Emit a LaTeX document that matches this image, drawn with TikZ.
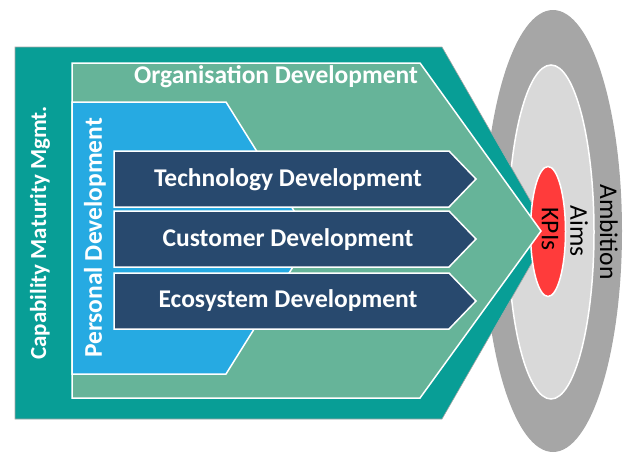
\documentclass[tikz,border=0pt]{standalone}
\usepackage{fontspec}
\setmainfont{Carlito}
\usepackage{tikz}
\usetikzlibrary{positioning}
\definecolor{tealbg}{RGB}{8,158,150}
\definecolor{orggreen}{RGB}{102,180,153}
\definecolor{persblue}{RGB}{38,170,226}
\definecolor{devdark}{RGB}{40,73,110}
\definecolor{kpired}{RGB}{255,59,59}
\definecolor{ambgray}{RGB}{166,166,166}
\definecolor{aimgray}{RGB}{217,217,217}
\tikzset{lbl/.style = {text = white, font = \bfseries\fontsize{25.5}{28}\selectfont, inner sep = 0},
  circlbl/.style = {text = black, font = \fontsize{25.5}{28}\selectfont, inner sep = 0, rotate = -90},
  panel/.style = {draw = white, line width = 1.5pt},
  devarrow/.style = {panel, fill = devdark}}

\begin{document}
\begin{tikzpicture}[x=1pt, y=-1pt]
      \useasboundingbox (0, 0) rectangle (627, 467);
      % target
      \fill [ambgray] (553, 231) ellipse [x radius=69, y radius=221];
      \draw [panel, fill=aimgray] (551, 232) ellipse [x radius=43, y radius=167];
      % outer frame
      \draw [fill=tealbg, draw=gray!70, line width=0.6pt] (15, 47) -- (442, 47) -- (549, 233) -- (442, 419) -- (15, 419) -- cycle;
      \draw [panel, fill=kpired] (548, 231.5) ellipse [x radius=17.5, y radius=65];
      \draw [panel, fill=orggreen] (72, 63) -- (420, 63) -- (541, 231) -- (420, 398) -- (72, 398) -- cycle;
      \draw [panel, fill=persblue] (72, 102) -- (226, 102) -- (311, 238) -- (226, 374) -- (72, 374) -- cycle;
      \foreach \top/\bot in {151/207, 211/267, 273/329}
        \draw [devarrow] (114, \top) -- (449, \top) -- (476, {(\top+\bot)/2}) -- (449, \bot) -- (114, \bot) -- cycle;
      % labels
      \node [lbl] (org) at (276, 77) {Organisation Development};
      \node [lbl] (tech) at (288, 180) {Technology Development};
      \node [lbl] (cust) at (288, 240) {Customer Development};
      \node [lbl] (eco) at (288, 301) {Ecosystem Development};
      \node [lbl, rotate=90, font=\bfseries\fontsize{23}{26}\selectfont] (cmm) at (40, 233) {Capability Maturity Mgmt.};
      \node [lbl, rotate=90] (pers) at (95, 238) {Personal Development};
      \node [circlbl] (kpi) at (550, 229) {KPIs};
      \node [circlbl] (aims) at (579, 231) {Aims};
      \node [circlbl] (amb) at (609, 232) {Ambition};
    \end{tikzpicture}
\end{document}
